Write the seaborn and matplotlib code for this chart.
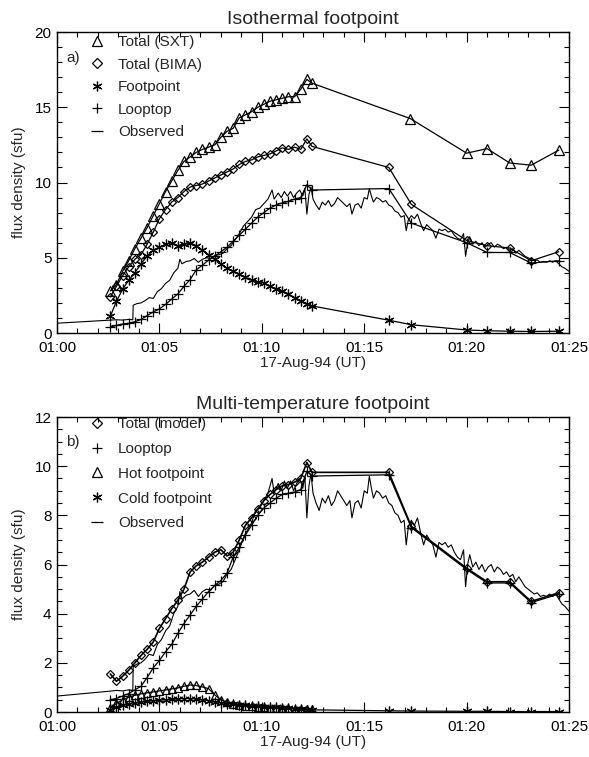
# %%
# Import libraries
import numpy as np
import pandas as pd
import matplotlib
matplotlib.use('Agg')
import matplotlib.pyplot as plt
import seaborn as sns
from matplotlib.lines import Line2D
from matplotlib.ticker import MultipleLocator

sns.set_style('ticks')
plt.rcParams['font.family'] = ['Liberation Sans', 'DejaVu Sans']

# %%
# Data: time in minutes after 01:00 UT on 17-Aug-94, flux density in sfu
obs_time = [0.0, 2.6, 2.9, 3.2, 3.5, 3.70, 3.72, 3.9, 4.1, 4.3,
            4.5, 4.7, 4.9, 5.1, 5.3, 5.5, 5.7, 5.9, 6.0, 6.1,
            6.3, 6.5, 6.7, 6.9, 7.1, 7.3, 7.5, 7.7, 7.9, 8.1,
            8.3, 8.5, 8.7, 8.9, 9.1, 9.3, 9.5, 9.7, 9.9, 10.1,
            10.3, 10.5, 10.6, 10.8, 10.95, 11.1, 11.25, 11.4, 11.55, 11.7,
            11.85, 12.0, 12.1, 12.2, 12.3, 12.4, 12.5, 12.65, 12.8, 12.95,
            13.1, 13.25, 13.4, 13.55, 13.7, 13.85, 14.0, 14.15, 14.3, 14.4,
            14.55, 14.7, 14.85, 15.0, 15.15, 15.25, 15.35, 15.45, 15.6, 15.75,
            15.9, 16.05, 16.2, 16.35, 16.5, 16.65, 16.8, 16.95, 17.05, 17.15,
            17.3, 17.45, 17.6, 17.75, 17.9, 18.05, 18.2, 18.35, 18.5, 18.65,
            18.8, 18.95, 19.1, 19.25, 19.4, 19.55, 19.7, 19.85, 19.95, 20.05,
            20.15, 20.3, 20.45, 20.6, 20.75, 20.9, 21.05, 21.2, 21.35, 21.5,
            21.65, 21.8, 21.95, 22.1, 22.25, 22.4, 22.55, 22.7, 22.85, 23.0,
            23.15, 23.3, 23.45, 23.6, 23.75, 23.9, 24.05, 24.2, 24.35, 24.5,
            24.65, 24.8, 25.0]
obs_flux = [0.65, 0.85, 0.88, 0.86, 0.90, 0.88, 1.85, 1.95, 2.00, 2.15,
            2.35, 2.30, 2.75, 2.95, 3.30, 3.50, 4.00, 4.30, 4.90, 4.60,
            4.75, 4.80, 4.95, 4.70, 4.90, 5.00, 4.95, 5.15, 5.20, 5.30,
            5.60, 5.80, 6.20, 6.60, 7.10, 7.40, 7.70, 8.20, 8.30, 8.60,
            8.90, 9.50, 8.90, 9.30, 9.00, 9.40, 9.10, 9.40, 9.00, 9.30,
            9.50, 9.10, 9.60, 7.90, 9.20, 9.70, 8.90, 8.50, 8.20, 8.70,
            8.50, 8.80, 8.40, 8.60, 9.00, 8.80, 8.60, 8.40, 8.60, 7.90,
            8.50, 8.60, 8.30, 9.00, 8.90, 9.60, 9.10, 8.70, 9.00, 8.90,
            8.70, 8.80, 8.50, 8.40, 8.10, 8.00, 7.70, 7.80, 6.80, 7.50,
            7.80, 7.60, 7.90, 7.30, 6.80, 7.20, 7.00, 6.80, 6.30, 6.90,
            6.80, 6.90, 6.70, 6.80, 6.50, 6.30, 6.20, 6.60, 5.10, 6.00,
            6.40, 5.90, 6.10, 5.80, 6.00, 5.70, 5.90, 6.00, 5.70, 5.90,
            5.80, 5.60, 5.70, 5.50, 5.60, 5.30, 5.50, 5.30, 5.10, 5.00,
            4.90, 4.80, 4.85, 4.70, 4.75, 4.70, 4.80, 4.70, 4.80, 4.60,
            4.40, 4.30, 4.10]

# model time steps during the rise phase and the later sparse steps
rise_time = [2.6, 2.9, 3.2, 3.5, 3.8, 4.1, 4.4, 4.7, 5.0, 5.3,
             5.6, 5.9, 6.2, 6.5, 6.8, 7.1, 7.4, 7.7, 8.0, 8.3,
             8.6, 8.9, 9.2, 9.5, 9.8, 10.1, 10.4, 10.7, 11.0, 11.3,
             11.6, 11.9, 12.2, 12.45]
late_time_sxt = [17.25, 20.0, 21.0, 22.1, 23.15, 24.5]
late_time = [16.2, 17.3, 20.0, 21.0, 22.1, 23.15, 24.5]

# a) isothermal footpoint
sxt_rise = [2.8, 3.2, 4.1, 4.8, 5.6, 6.3, 7.0, 7.8, 8.6, 9.4,
            10.1, 10.8, 11.4, 11.7, 12.0, 12.2, 12.35, 12.5, 13.0, 13.4,
            13.6, 14.3, 14.5, 14.7, 15.0, 15.2, 15.4, 15.5, 15.6, 15.7,
            15.7, 16.2, 16.85, 16.6]
sxt_late = [14.25, 11.95, 12.25, 11.3, 11.15, 12.15]
bima_rise = [2.4, 3.1, 3.8, 4.4, 4.9, 5.2, 5.9, 6.7, 7.6, 8.2,
             8.7, 9.0, 9.4, 9.7, 9.8, 9.9, 10.1, 10.3, 10.5, 10.7,
             10.9, 11.2, 11.4, 11.5, 11.7, 11.8, 11.9, 12.1, 12.3, 12.2,
             12.35, 12.2, 12.9, 12.4]
bima_late = [11.0, 8.55, 6.15, 5.8, 5.65, 4.8, 5.4]
foot_rise = [1.1, 2.1, 2.9, 3.5, 4.0, 4.6, 5.1, 5.5, 5.7, 5.9,
             6.0, 5.8, 5.9, 6.0, 5.8, 5.5, 5.2, 4.9, 4.6, 4.3,
             4.1, 3.9, 3.7, 3.5, 3.4, 3.35, 3.1, 2.95, 2.8, 2.6,
             2.35, 2.15, 1.95, 1.8]
foot_late = [0.85, 0.55, 0.2, 0.15, 0.12, 0.1, 0.12]
loop_rise = [0.4, 0.5, 0.6, 0.65, 0.75, 0.9, 1.15, 1.4, 1.6, 1.9,
             2.25, 2.6, 3.1, 3.55, 4.2, 4.5, 4.85, 5.1, 5.4, 5.7,
             6.1, 6.5, 6.9, 7.3, 7.7, 8.0, 8.3, 8.5, 8.65, 8.75,
             8.9, 9.0, 9.85, 9.5]
loop_late = [9.6, 7.3, 6.0, 5.35, 5.35, 4.65, 4.8]

# b) multi-temperature footpoint
total_rise = [1.55, 1.25, 1.45, 1.7, 2.0, 2.3, 2.55, 2.85, 3.4, 3.8,
              4.2, 4.55, 5.0, 5.7, 5.95, 6.1, 6.3, 6.5, 6.6, 6.35,
              6.5, 7.0, 7.6, 7.9, 8.25, 8.6, 8.85, 9.05, 9.2, 9.25,
              9.35, 9.5, 10.15, 9.75]
total_late = [9.75, 7.55, 5.85, 5.3, 5.3, 4.5, 4.85]
loopb_rise = [0.5, 0.55, 0.65, 0.75, 0.9, 1.05, 1.4, 1.8, 2.1, 2.45,
              2.75, 3.2, 3.6, 3.95, 4.3, 4.6, 4.9, 5.15, 5.35, 5.65,
              6.3, 6.7, 7.2, 7.6, 8.0, 8.3, 8.5, 8.7, 8.85, 8.9,
              8.95, 9.05, 9.8, 9.6]
loopb_late = [9.65, 7.5, 5.8, 5.25, 5.25, 4.45, 4.8]
hot_rise = [0.15, 0.35, 0.5, 0.6, 0.68, 0.74, 0.78, 0.82, 0.86, 0.9,
            0.94, 0.98, 1.05, 1.1, 1.08, 1.02, 0.95, 0.7, 0.5, 0.4,
            0.32, 0.28, 0.25, 0.23, 0.21, 0.2, 0.18, 0.17, 0.16, 0.15,
            0.14, 0.13, 0.12, 0.12]
cold_rise = [0.1, 0.2, 0.28, 0.33, 0.37, 0.4, 0.43, 0.46, 0.48, 0.5,
             0.52, 0.53, 0.55, 0.55, 0.53, 0.5, 0.46, 0.42, 0.38, 0.34,
             0.31, 0.29, 0.27, 0.25, 0.24, 0.22, 0.2, 0.19, 0.17, 0.15,
             0.13, 0.11, 0.1, 0.09]
cold_late = [0.05, 0.04, 0.03, 0.03, 0.02, 0.02, 0.02]

tick_min = [0, 5, 10, 15, 20, 25]
tick_labels = ['01:00', '01:05', '01:10', '01:15', '01:20', '01:25']

ASTER = (6, 2, 0)


# %%
def draw(ax, t, v, marker, ms=6, lw=0.9):
    sns.lineplot(x=t, y=v, ax=ax, color='k', linewidth=lw, marker=marker,
                 markersize=ms, markerfacecolor='none', markeredgecolor='k',
                 markeredgewidth=0.9, estimator=None, sort=False)


def style_axes(ax, ymax, ymajor, yminor, title, tag, xpad):
    ax.set_xlim(0, 25)
    ax.set_ylim(0, ymax)
    ax.set_xticks(tick_min)
    ax.set_xticklabels(tick_labels)
    ax.xaxis.set_minor_locator(MultipleLocator(1))
    ax.yaxis.set_major_locator(MultipleLocator(ymajor))
    ax.yaxis.set_minor_locator(MultipleLocator(yminor))
    ax.tick_params(which='both', direction='in', top=True, right=True,
                   labelsize=11, width=0.8, colors='k')
    ax.tick_params(which='major', length=7)
    ax.tick_params(which='minor', length=3.5)
    ax.tick_params(axis='x', pad=6)
    ax.tick_params(axis='y', pad=4)
    for s in ax.spines.values():
        s.set_linewidth(1.0)
        s.set_color('k')
    ax.set_xlabel('17-Aug-94 (UT)', fontsize=11, labelpad=xpad)
    ax.set_ylabel('flux density (sfu)', fontsize=11, labelpad=6)
    ax.set_title(title, fontsize=14, pad=6)
    ax.text(0.018, 0.915, tag, transform=ax.transAxes, fontsize=11,
            ha='left', va='center')


def legend(ax, entries, y0, spacing):
    handles = []
    labels = []
    for marker, label in entries:
        ms = 9 if marker == '_' else 7
        if marker == 'D':
            ms = 5.5
        handles.append(Line2D([], [], ls='none', marker=marker, markersize=ms,
                              markerfacecolor='none', markeredgecolor='k',
                              markeredgewidth=0.9))
        labels.append(label)
    ax.legend(handles, labels, loc='upper left', bbox_to_anchor=(0.064, y0),
              frameon=False, fontsize=11, handlelength=1.0, handletextpad=0.85,
              labelspacing=spacing, borderaxespad=0, borderpad=0)


# %%
fig = plt.figure(figsize=(5.89, 7.57), dpi=100)
ax1 = fig.add_axes([0.0968, 0.5601, 0.8693, 0.3976])
ax2 = fig.add_axes([0.0968, 0.0594, 0.8693, 0.3897])

# a) isothermal footpoint
draw(ax1, obs_time, obs_flux, None, lw=0.8)
draw(ax1, rise_time + late_time_sxt, sxt_rise + sxt_late, '^', ms=6.5)
draw(ax1, rise_time + late_time, bima_rise + bima_late, 'D', ms=4.5)
draw(ax1, rise_time + late_time, foot_rise + foot_late, ASTER, ms=7)
draw(ax1, rise_time + late_time, loop_rise + loop_late, '+', ms=7)
style_axes(ax1, 20, 5, 1, 'Isothermal footpoint', 'a)', 0.5)
legend(ax1, [('^', 'Total (SXT)'), ('D', 'Total (BIMA)'),
             (ASTER, 'Footpoint'), ('+', 'Looptop'), ('_', 'Observed')],
       0.99, 0.56)

# b) multi-temperature footpoint
draw(ax2, obs_time, obs_flux, None, lw=0.8)
draw(ax2, rise_time + late_time, total_rise + total_late, 'D', ms=4.5, lw=1.2)
draw(ax2, rise_time + late_time, loopb_rise + loopb_late, '+', ms=7)
draw(ax2, rise_time, hot_rise, '^', ms=6)
draw(ax2, rise_time + late_time, cold_rise + cold_late, ASTER, ms=7)
style_axes(ax2, 12, 2, 0.5, 'Multi-temperature footpoint', 'b)', 0.5)
legend(ax2, [('D', 'Total (model)'), ('+', 'Looptop'), ('^', 'Hot footpoint'),
             (ASTER, 'Cold footpoint'), ('_', 'Observed')],
       1.0, 0.71)

fig.savefig('out.png', dpi=100)
